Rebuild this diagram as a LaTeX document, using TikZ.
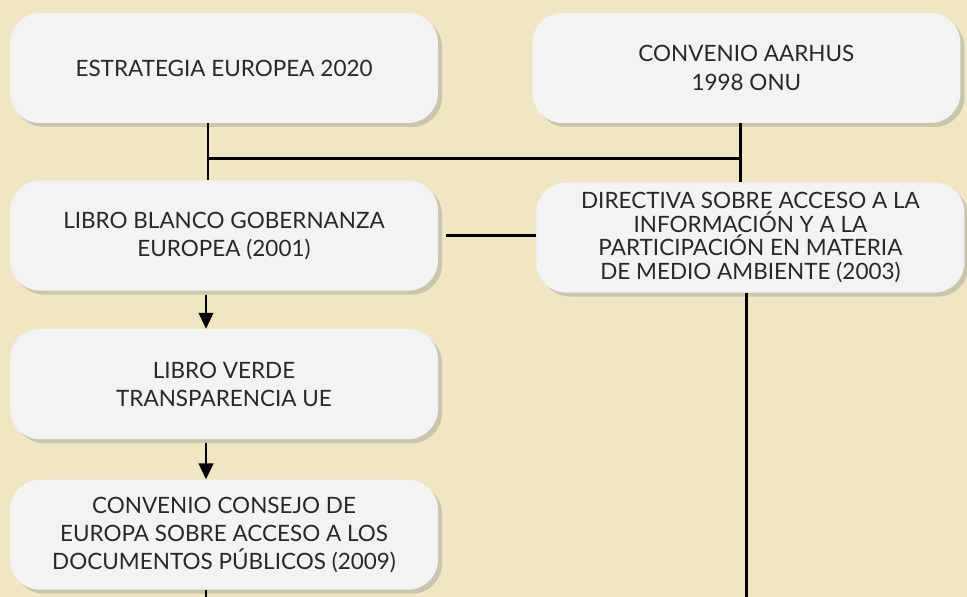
\documentclass[tikz,border=0pt]{standalone}
\usepackage{fontspec}
\setmainfont{Lato}
\usetikzlibrary{positioning,shadows,arrows.meta}
\definecolor{fondo}{RGB}{240,230,196}
\definecolor{caja}{RGB}{243,243,243}
\definecolor{sombra}{RGB}{175,178,160}
\definecolor{texto}{RGB}{40,40,40}
\tikzstyle{box} = [rectangle, rounded corners=7.5mm, minimum width=10.7cm, minimum height=2.75cm, text centered, align=center, fill=caja, text=texto, font=\fontsize{16}{20}\selectfont, drop shadow={shadow xshift=1mm, shadow yshift=-1mm, fill=sombra, opacity=0.6}]
\tikzstyle{conn} = [line width=1.8pt, black]
\tikzstyle{arrow} = [conn, -{Triangle[length=4mm,width=3.6mm]}]

\begin{document}
\begin{tikzpicture}[node distance=1.425cm]
      \fill[fondo] (0,0) rectangle (24.175,-14.925);
      \useasboundingbox (0,0) rectangle (24.175,-14.925);
      \coordinate (bot) at (0,-14.925);
      \node (ee)[box] at (5.6,-1.7) {ESTRATEGIA EUROPEA 2020};
      \node (ca)[box] at (18.66,-1.7) {CONVENIO AARHUS\\1998 ONU};
      \node (lb)[box, below=of ee] {LIBRO BLANCO GOBERNANZA\\EUROPEA (2001)};
      \node (dir)[box, below=1.475cm of ca, xshift=1mm, font=\fontsize{16}{16.7}\selectfont] {DIRECTIVA SOBRE ACCESO A LA\\INFORMACIÓN Y A LA\\PARTICIPACIÓN EN MATERIA\\DE MEDIO AMBIENTE (2003)};
      \node (lv)[box, below=0.95cm of lb] {LIBRO VERDE\\TRANSPARENCIA UE};
      \node (cc)[box, below=1cm of lv] {CONVENIO CONSEJO DE\\EUROPA SOBRE ACCESO A LOS\\DOCUMENTOS PÚBLICOS (2009)};
      \coordinate (p1) at ([xshift=-4mm]ee.south);
      \coordinate (p2) at ([xshift=-1.5mm]ca.south);
      \coordinate (j1) at ([yshift=-8.75mm]p1);
      \coordinate (q1) at ([xshift=-4.5mm]cc.south);
      \coordinate (q2) at ([xshift=-1mm]dir.south);
      \draw [conn](p1)--(p1 |- lb.north);
      \draw [conn](p2)--(p2 |- dir.north);
      \draw [conn](j1)--(j1 -| p2);
      \draw [conn]([xshift=2mm]lb.east)--(lb.east -| dir.west);
      \draw [arrow]([xshift=-4.5mm,yshift=-1mm]lb.south)--([xshift=-4.5mm]lv.north);
      \draw [arrow]([xshift=-4.5mm,yshift=-1mm]lv.south)--([xshift=-4.5mm]cc.north);
      \draw [conn](q1)--(q1 |- bot);
      \draw [conn](q2)--(q2 |- bot);
    \end{tikzpicture}
\end{document}
